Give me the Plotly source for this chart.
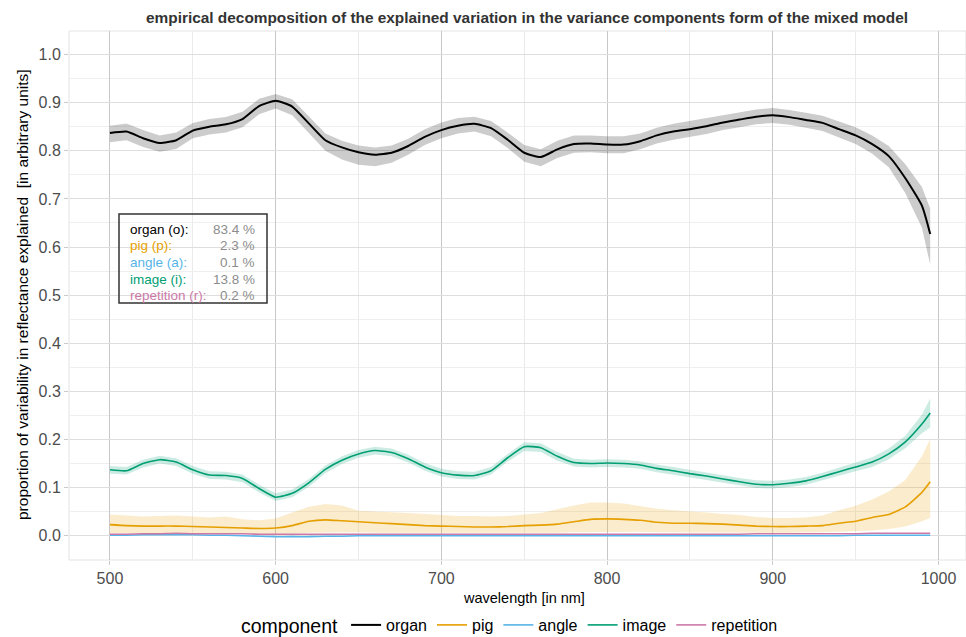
import plotly.graph_objects as go

wavelength = [500, 510, 520, 530, 540, 550, 560, 570, 580, 590,
              600, 610, 620, 630, 640, 650, 660, 670, 680, 690,
              700, 710, 720, 730, 740, 750, 760, 770, 780, 790,
              800, 810, 820, 830, 840, 850, 860, 870, 880, 890,
              900, 910, 920, 930, 940, 950, 960, 970, 980, 990, 995]

organ = [0.837, 0.840, 0.826, 0.816, 0.822, 0.842, 0.850, 0.855, 0.866, 0.893,
         0.904, 0.892, 0.857, 0.822, 0.807, 0.797, 0.792, 0.796, 0.810, 0.829,
         0.843, 0.852, 0.856, 0.847, 0.823, 0.796, 0.787, 0.803, 0.814, 0.815,
         0.813, 0.813, 0.820, 0.832, 0.840, 0.845, 0.851, 0.859, 0.865, 0.871,
         0.874, 0.870, 0.864, 0.858, 0.845, 0.832, 0.814, 0.789, 0.743, 0.686, 0.627]
organ_hi = [0.852, 0.857, 0.843, 0.832, 0.838, 0.858, 0.866, 0.870, 0.881, 0.908,
            0.918, 0.907, 0.872, 0.836, 0.821, 0.811, 0.807, 0.811, 0.825, 0.845,
            0.859, 0.868, 0.871, 0.862, 0.838, 0.812, 0.803, 0.821, 0.832, 0.832,
            0.830, 0.830, 0.836, 0.848, 0.856, 0.862, 0.867, 0.874, 0.880, 0.886,
            0.889, 0.885, 0.879, 0.873, 0.861, 0.849, 0.832, 0.810, 0.772, 0.725, 0.680]
organ_lo = [0.818, 0.822, 0.808, 0.798, 0.804, 0.826, 0.834, 0.838, 0.849, 0.876,
            0.888, 0.874, 0.836, 0.800, 0.782, 0.771, 0.768, 0.775, 0.792, 0.812,
            0.826, 0.836, 0.840, 0.830, 0.806, 0.777, 0.768, 0.785, 0.796, 0.797,
            0.795, 0.795, 0.803, 0.815, 0.823, 0.829, 0.835, 0.843, 0.849, 0.855,
            0.858, 0.854, 0.848, 0.841, 0.828, 0.814, 0.794, 0.766, 0.712, 0.640, 0.563]

pig = [0.023, 0.021, 0.020, 0.020, 0.020, 0.019, 0.018, 0.017, 0.016, 0.015,
       0.016, 0.021, 0.030, 0.033, 0.031, 0.029, 0.027, 0.025, 0.023, 0.021,
       0.020, 0.019, 0.018, 0.018, 0.019, 0.021, 0.022, 0.024, 0.029, 0.034,
       0.035, 0.034, 0.032, 0.028, 0.026, 0.026, 0.025, 0.024, 0.022, 0.020,
       0.019, 0.019, 0.020, 0.021, 0.026, 0.030, 0.038, 0.044, 0.060, 0.090, 0.112]
pig_hi = [0.044, 0.042, 0.040, 0.041, 0.042, 0.040, 0.038, 0.040, 0.034, 0.032,
          0.036, 0.048, 0.060, 0.066, 0.063, 0.052, 0.051, 0.049, 0.047, 0.045,
          0.043, 0.041, 0.041, 0.040, 0.041, 0.044, 0.047, 0.055, 0.063, 0.069,
          0.069, 0.067, 0.062, 0.056, 0.053, 0.051, 0.048, 0.045, 0.043, 0.039,
          0.037, 0.037, 0.038, 0.042, 0.053, 0.062, 0.075, 0.092, 0.116, 0.165, 0.201]
pig_lo = [0.005, 0.005, 0.005, 0.005, 0.005, 0.005, 0.004, 0.004, 0.004, 0.003,
          0.003, 0.004, 0.006, 0.007, 0.007, 0.007, 0.006, 0.006, 0.006, 0.005,
          0.005, 0.005, 0.005, 0.005, 0.005, 0.005, 0.006, 0.006, 0.007, 0.008,
          0.008, 0.008, 0.008, 0.007, 0.007, 0.007, 0.007, 0.006, 0.006, 0.006,
          0.006, 0.006, 0.006, 0.007, 0.008, 0.009, 0.011, 0.014, 0.019, 0.030, 0.037]

angle = [0.001, 0.001, 0.002, 0.002, 0.002, 0.002, 0.001, 0.001, 0.000, -0.001,
         -0.002, -0.002, -0.002, -0.001, -0.001, 0.000, 0.000, 0.000, 0.000, 0.000,
         0.000, 0.000, 0.000, 0.000, 0.000, 0.000, 0.000, 0.000, 0.000, 0.000,
         0.000, 0.000, 0.000, 0.000, 0.000, 0.000, 0.000, 0.000, 0.000, 0.000,
         0.000, 0.000, 0.000, 0.000, 0.000, 0.001, 0.001, 0.001, 0.001, 0.001, 0.001]

image = [0.137, 0.135, 0.150, 0.158, 0.153, 0.137, 0.126, 0.125, 0.119, 0.098,
         0.080, 0.088, 0.110, 0.138, 0.157, 0.170, 0.177, 0.173, 0.160, 0.143,
         0.131, 0.126, 0.125, 0.135, 0.162, 0.185, 0.183, 0.165, 0.152, 0.150,
         0.151, 0.150, 0.147, 0.140, 0.135, 0.129, 0.124, 0.118, 0.112, 0.107,
         0.106, 0.109, 0.114, 0.123, 0.133, 0.143, 0.153, 0.170, 0.195, 0.232, 0.255]
image_hi = [0.145, 0.143, 0.158, 0.166, 0.161, 0.145, 0.134, 0.133, 0.127, 0.106,
            0.088, 0.096, 0.118, 0.146, 0.165, 0.178, 0.185, 0.181, 0.168, 0.151,
            0.139, 0.134, 0.133, 0.143, 0.170, 0.194, 0.192, 0.174, 0.160, 0.158,
            0.159, 0.158, 0.155, 0.148, 0.143, 0.137, 0.132, 0.126, 0.120, 0.115,
            0.114, 0.117, 0.122, 0.131, 0.141, 0.152, 0.163, 0.181, 0.208, 0.252, 0.285]
image_lo = [0.129, 0.127, 0.142, 0.150, 0.145, 0.129, 0.118, 0.117, 0.111, 0.090,
            0.072, 0.080, 0.102, 0.130, 0.149, 0.162, 0.169, 0.165, 0.152, 0.135,
            0.123, 0.118, 0.117, 0.127, 0.154, 0.176, 0.174, 0.156, 0.144, 0.142,
            0.143, 0.142, 0.139, 0.132, 0.127, 0.121, 0.116, 0.110, 0.104, 0.099,
            0.098, 0.101, 0.106, 0.115, 0.125, 0.134, 0.143, 0.159, 0.182, 0.213, 0.225]

repetition = [0.003, 0.003, 0.004, 0.004, 0.005, 0.004, 0.004, 0.004, 0.004, 0.003,
              0.003, 0.003, 0.003, 0.003, 0.003, 0.003, 0.003, 0.003, 0.003, 0.003,
              0.003, 0.003, 0.003, 0.003, 0.003, 0.003, 0.003, 0.003, 0.003, 0.003,
              0.003, 0.003, 0.003, 0.003, 0.003, 0.003, 0.003, 0.003, 0.003, 0.004,
              0.004, 0.004, 0.004, 0.004, 0.004, 0.004, 0.005, 0.005, 0.005, 0.005, 0.005]

components = ["organ", "pig", "angle", "image", "repetition"]
box_labels = ["organ (o):", "pig (p):", "angle (a):", "image (i):", "repetition (r):"]
box_values = ["83.4 %", "2.3 %", "0.1 %", "13.8 %", "0.2 %"]
x_ticks = [500, 600, 700, 800, 900, 1000]
y_ticks = [0.0, 0.1, 0.2, 0.3, 0.4, 0.5, 0.6, 0.7, 0.8, 0.9, 1.0]

colors = {"organ": "#000000", "pig": "#E69F00", "angle": "#56B4E9",
          "image": "#009E73", "repetition": "#CC79A7"}
fills = {"organ": "rgba(0,0,0,0.2)", "pig": "rgba(230,159,0,0.2)",
         "image": "rgba(0,158,115,0.2)"}

series = {"organ": organ, "pig": pig, "angle": angle, "image": image, "repetition": repetition}
bands = {"organ": (organ_lo, organ_hi), "pig": (pig_lo, pig_hi), "image": (image_lo, image_hi)}

W, H = 966, 637
L, R, T, B = 69, 0, 31, 77
PW, PH = W - L - R, H - T - B


def px_x(p):
    return (p - L) / PW


def px_y(p):
    return (H - B - p) / PH


fig = go.Figure()
for name, (lo, hi) in bands.items():
    fig.add_trace(go.Scatter(
        x=wavelength + wavelength[::-1], y=hi + lo[::-1],
        fill="toself", fillcolor=fills[name], line=dict(width=0),
        mode="lines", hoverinfo="skip", showlegend=False))

for name in components:
    fig.add_trace(go.Scatter(
        x=wavelength, y=series[name], mode="lines", name=name,
        line=dict(color=colors[name], width=2 if name == "organ" else 1.6,
                  shape="spline", smoothing=0.5)))

# legend box inside panel
fig.add_shape(type="rect", xref="paper", yref="paper",
              x0=px_x(119), x1=px_x(267), y0=px_y(303), y1=px_y(214),
              line=dict(color="#333333", width=1.5), fillcolor="rgba(255,255,255,0)")
row_px = [229, 245.7, 262.3, 279, 295.7]
for lab, val, comp, yy in zip(box_labels, box_values, components, row_px):
    fig.add_annotation(x=px_x(127.5), y=px_y(yy), xref="paper", yref="paper", text=lab,
                       showarrow=False, xanchor="left", yanchor="middle",
                       font=dict(size=13.5, color=colors[comp]))
    fig.add_annotation(x=px_x(257), y=px_y(yy), xref="paper", yref="paper", text=val,
                       showarrow=False, xanchor="right", yanchor="middle",
                       font=dict(size=13.5, color="#8c8c8c"))

# titles
fig.add_annotation(x=px_x(527), y=px_y(18), xref="paper", yref="paper",
                   text="<b>empirical decomposition of the explained variation in the variance components form of the mixed model</b>",
                   showarrow=False, xanchor="center", yanchor="middle",
                   font=dict(size=15.4, color="#333333"))
fig.add_annotation(x=px_x(524), y=px_y(598), xref="paper", yref="paper", text="wavelength [in nm]",
                   showarrow=False, xanchor="center", yanchor="middle",
                   font=dict(size=14.5, color="#000000"))
fig.add_annotation(x=px_x(22), y=px_y(295), xref="paper", yref="paper",
                   text="proportion of variability in reflectance explained  [in arbitrary units]",
                   showarrow=False, textangle=-90, xanchor="center", yanchor="middle",
                   font=dict(size=15.5, color="#000000"))

fig.update_layout(
    width=W, height=H,
    margin=dict(l=L, r=R, t=T, b=B, pad=0, autoexpand=False),
    paper_bgcolor="white", plot_bgcolor="white",
    font=dict(family="Liberation Sans, Arial, sans-serif", color="#4d4d4d"),
    legend=dict(orientation="h", x=px_x(511), xanchor="center", y=px_y(626), yanchor="middle",
                title=dict(text="component", side="left", font=dict(size=19.5, color="#000000")),
                font=dict(size=16, color="#000000"), itemwidth=30),
    showlegend=True,
)
fig.update_xaxes(range=[475.3, 1016.6], tickvals=x_ticks, ticktext=[str(v) for v in x_ticks],
                 showgrid=True, gridcolor="#c8c8c8", gridwidth=1,
                 minor=dict(dtick=50, tick0=500, showgrid=True, gridcolor="#ebebeb", gridwidth=1),
                 ticks="outside", ticklen=4, tickcolor="#cccccc",
                 tickfont=dict(size=16, color="#4d4d4d"),
                 zeroline=False, showline=False, automargin=False)
fig.update_yaxes(range=[-0.0505, 1.049], tickvals=y_ticks, ticktext=[f"{v:.1f}" for v in y_ticks],
                 showgrid=True, gridcolor="#dedede", gridwidth=1,
                 minor=dict(dtick=0.05, tick0=0, showgrid=True, gridcolor="#efefef", gridwidth=1),
                 ticks="outside", ticklen=4, tickcolor="#cccccc",
                 tickfont=dict(size=16, color="#4d4d4d"),
                 zeroline=False, showline=False, automargin=False)
# panel border
fig.add_shape(type="rect", xref="paper", yref="paper", x0=0, x1=1, y0=0, y1=1,
              line=dict(color="#e3e3e3", width=1), layer="below")

fig.write_html("out.html", config={"displayModeBar": False},
               post_script="document.body.style.margin='0';document.body.style.overflow='hidden';")
